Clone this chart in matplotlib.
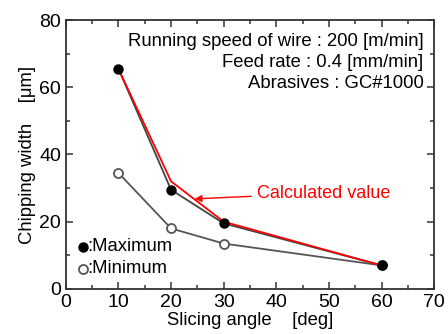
import matplotlib.pyplot as plt
from matplotlib.ticker import MultipleLocator

plt.rcParams['font.family'] = ['Liberation Sans', 'DejaVu Sans']

# slicing angle [deg] and chipping width [um]
angle = [10, 20, 30, 60]
width_max = [65.5, 29.5, 19.5, 7.0]
width_min = [34.5, 18.0, 13.5, 7.0]
width_calc = [65.5, 32.0, 20.0, 7.0]

fig = plt.figure(figsize=(4.48, 3.34), dpi=100)
ax = fig.add_axes([0.147, 0.135, 0.822, 0.805])

ax.plot(angle, width_max, color='#444444', lw=1.3, zorder=2)
ax.plot(angle, width_min, color='#555555', lw=1.3, zorder=2)
ax.plot(angle, width_calc, color='red', lw=1.3, zorder=3)
ax.plot(angle, width_min, 'o', mfc='white', mec='#555555', mew=1.3, ms=6.5, zorder=4)
ax.plot(angle, width_max, 'o', color='black', ms=6.5, zorder=5)

ax.annotate('Calculated value', xy=(24.5, 26.8), xytext=(36.3, 28.5),
            color='red', fontsize=13, va='center',
            arrowprops=dict(arrowstyle='-|>', color='red', lw=1.0,
                            mutation_scale=10, shrinkA=2, shrinkB=0))

ax.text(68, 73.5, 'Running speed of wire : 200 [m/min]', ha='right', va='center', fontsize=13.3)
ax.text(68, 67.3, 'Feed rate : 0.4 [mm/min]', ha='right', va='center', fontsize=13.3)
ax.text(68, 61.0, 'Abrasives : GC#1000', ha='right', va='center', fontsize=13.3)

# legend drawn as text with markers
ax.plot([3.2], [12.5], 'o', color='black', ms=6.5)
ax.plot([3.2], [6.0], 'o', mfc='white', mec='#555555', mew=1.3, ms=6.5)
ax.text(4.1, 12.5, ':Maximum', va='center', fontsize=13.3)
ax.text(4.1, 6.0, ':Minimum', va='center', fontsize=13.3)

ax.set_xlim(0, 70)
ax.set_ylim(0, 80)
ax.xaxis.set_major_locator(MultipleLocator(10))
ax.xaxis.set_minor_locator(MultipleLocator(5))
ax.yaxis.set_major_locator(MultipleLocator(20))
ax.yaxis.set_minor_locator(MultipleLocator(10))
ax.tick_params(which='both', direction='in', top=True, right=True, labelsize=14, width=1.2,
               color='#444444')
ax.tick_params(which='major', length=5)
ax.tick_params(which='minor', length=3)
for s in ax.spines.values():
    s.set_linewidth(1.3)
    s.set_color('#333333')

ax.set_xlabel('Slicing angle    [deg]', fontsize=13.3, labelpad=1)
ax.set_ylabel('Chipping width    [\u03bcm]', fontsize=13.3, labelpad=2)

fig.savefig('out.png', dpi=100)
